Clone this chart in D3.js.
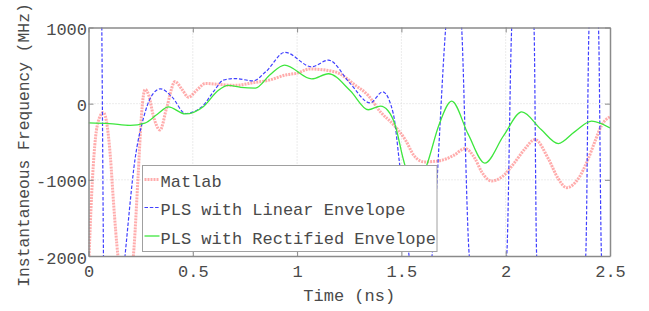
<!DOCTYPE html>
<html>
<head>
<meta charset="utf-8">
<script src="https://cdn.jsdelivr.net/npm/d3@7"></script>
<style>
  html, body { margin: 0; padding: 0; background: #fff; }
  svg { display: block; }
  text { font-family: "Liberation Mono", "DejaVu Sans Mono", monospace; fill: #4a4a4a; }
</style>
</head>
<body>
<svg id="chart" width="649" height="311"></svg>
<script>
// ---- data ----
const seriesNames = ["Matlab", "PLS with Linear Envelope", "PLS with Rectified Envelope"];
const xTicks = [0, 0.5, 1, 1.5, 2, 2.5];
const xTickLabels = ["0", "0.5", "1", "1.5", "2", "2.5"];
const yTicks = [-2000, -1000, 0, 1000];
const yTickLabels = ["-2000", "-1000", "0", "1000"];
const xLabel = "Time (ns)";
const yLabel = "Instantaneous Frequency (MHz)";

// Matlab (red dotted)
const matlabT = [0, 0.015, 0.03, 0.045, 0.071, 0.09, 0.105, 0.12, 0.141, 0.175, 0.215, 0.238, 0.254, 0.271, 0.29, 0.31, 0.343, 0.375, 0.415, 0.45, 0.479, 0.52, 0.56, 0.62, 0.7, 0.8, 0.86, 0.95, 1.0, 1.06, 1.18, 1.28, 1.34, 1.40, 1.46, 1.52, 1.56, 1.61, 1.69, 1.75, 1.805, 1.853, 1.885, 1.933, 1.981, 2.045, 2.093, 2.14, 2.204, 2.252, 2.292, 2.348, 2.396, 2.43, 2.46, 2.5];
const matlabF = [-2200, -1200, -550, -250, -116, -300, -700, -1300, -2000, -2600, -2000, -940, -150, 186, 100, -150, -345, -50, 290, 180, 85, 180, 265, 255, 240, 280, 305, 380, 400, 455, 419, 240, 110, -110, -270, -480, -680, -765, -745, -680, -590, -721, -897, -1015, -963, -765, -590, -471, -721, -985, -1103, -985, -721, -480, -283, -173];

// PLS with Linear Envelope (blue dashed)
const linearT = [0, 0.059, 0.077, 0.13, 0.175, 0.223, 0.263, 0.30, 0.345, 0.40, 0.465, 0.543, 0.60, 0.646, 0.70, 0.79, 0.85, 0.942, 1.07, 1.15, 1.254, 1.35, 1.41, 1.461, 1.49, 1.537, 1.59, 1.6467, 1.7124, 1.75, 1.789, 1.8255, 1.92, 2.0048, 2.0288, 2.08, 2.1357, 2.1486, 2.27, 2.3835, 2.3993, 2.42, 2.4449, 2.4592, 2.5];
const linearF = [3500, 2000, -3000, -3300, -2000, -730, -195, 90, 195, 90, -129, -42, 160, 309, 330, 300, 420, 674, 484, 572, 266, 10, 155, -129, -760, -2000, -2800, -2000, 1000, 2200, 1000, -2000, -3500, -2000, 1000, 2500, 1000, -2000, -4000, -2000, 1000, 1800, 1000, -2000, -3000];

// PLS with Rectified Envelope (green solid)
const rectT = [0, 0.1, 0.2, 0.27, 0.33, 0.383, 0.463, 0.55, 0.62, 0.67, 0.73, 0.80, 0.87, 0.94, 1.07, 1.15, 1.255, 1.341, 1.40, 1.435, 1.47, 1.51, 1.57, 1.625, 1.68, 1.741, 1.82, 1.90, 1.99, 2.077, 2.17, 2.252, 2.33, 2.412, 2.5];
const rectF = [-253, -262, -285, -255, -140, -42, -135, -40, 170, 240, 215, 205, 380, 507, 325, 393, 170, -80, -33, -90, -280, -740, -1150, -780, -280, 33, -400, -780, -420, -107, -340, -524, -370, -230, -318];

// ---- layout ----
const mLeft = 88.5, mRight = 610, mTop = 27.5, mBottom = 256;
const svg = d3.select("#chart");

const x = d3.scaleLinear().domain([0, 2.5]).range([mLeft, mRight]);
const y = d3.scaleLinear().domain([-2000, 1000]).range([mBottom, mTop]);

// grid
const grid = svg.append("g");
grid.selectAll("line.gx").data(xTicks.slice(1, -1)).enter().append("line")
  .attr("x1", d => x(d)).attr("x2", d => x(d)).attr("y1", mTop).attr("y2", mBottom)
  .attr("stroke", "#d8d8d8").attr("stroke-width", 1).attr("stroke-dasharray", "1,2");
grid.selectAll("line.gy").data(yTicks.slice(1, -1)).enter().append("line")
  .attr("x1", mLeft).attr("x2", mRight).attr("y1", d => y(d)).attr("y2", d => y(d))
  .attr("stroke", "#d8d8d8").attr("stroke-width", 1).attr("stroke-dasharray", "1,2");

// clip
svg.append("defs").append("clipPath").attr("id", "plotclip")
  .append("rect").attr("x", mLeft).attr("y", mTop).attr("width", mRight - mLeft).attr("height", mBottom - mTop);

const line = d3.line().x(d => x(d[0])).y(d => y(d[1])).curve(d3.curveMonotoneX);
const plot = svg.append("g").attr("clip-path", "url(#plotclip)");

const styles = [
  { stroke: "rgba(255,70,70,0.45)", width: 3, dash: "2,1" },
  { stroke: "#4040ff", width: 1.2, dash: "3.5,1.8" },
  { stroke: "#3ee63e", width: 1.3, dash: null }
];
const seriesData = [
  d3.zip(matlabT, matlabF),
  d3.zip(linearT, linearF),
  d3.zip(rectT, rectF)
];
seriesData.forEach((data, i) => {
  const p = plot.append("path").attr("d", line(data)).attr("fill", "none")
    .attr("stroke", styles[i].stroke).attr("stroke-width", styles[i].width)
    .attr("stroke-linejoin", "round");
  if (styles[i].dash) p.attr("stroke-dasharray", styles[i].dash);
});

// axes
const axisColor = "#8a8a8a";
const fontSize = 17;
const gx = svg.append("g").attr("transform", `translate(0,${mBottom})`)
  .call(d3.axisBottom(x).tickValues(xTicks).tickFormat((d, i) => xTickLabels[i]).tickSizeInner(-5).tickSizeOuter(0).tickPadding(9));
const gxt = svg.append("g").attr("transform", `translate(0,${mTop})`)
  .call(d3.axisTop(x).tickValues(xTicks).tickFormat("").tickSizeInner(-5).tickSizeOuter(0));
const gy = svg.append("g").attr("transform", `translate(${mLeft},0)`)
  .call(d3.axisLeft(y).tickValues(yTicks).tickFormat((d, i) => yTickLabels[i]).tickSizeInner(-5).tickSizeOuter(0).tickPadding(1.5));
const gyr = svg.append("g").attr("transform", `translate(${mRight},0)`)
  .call(d3.axisRight(y).tickValues(yTicks).tickFormat("").tickSizeInner(-5).tickSizeOuter(0));

[gx, gxt, gy, gyr].forEach(g => {
  g.select(".domain").attr("stroke", axisColor).attr("stroke-width", 1.5);
  g.selectAll(".tick line").attr("stroke", axisColor).attr("stroke-width", 1);
  g.selectAll("text").attr("font-family", "Liberation Mono").attr("font-size", fontSize).attr("fill", "#4a4a4a");
});
gy.selectAll("text").attr("dy", "0.42em");

// axis labels
svg.append("text").attr("x", (mLeft + mRight) / 2).attr("y", 301)
  .attr("text-anchor", "middle").attr("font-size", fontSize).text(xLabel);
svg.append("text").attr("transform", "translate(28.5,145) rotate(-90)")
  .attr("text-anchor", "middle").attr("font-size", 16.3).text(yLabel);

// legend
const lg = svg.append("g");
lg.append("rect").attr("x", 142.5).attr("y", 165.5).attr("width", 294.5).attr("height", 86)
  .attr("fill", "#fff").attr("stroke", "#a0a0a0").attr("stroke-width", 1);
const rowBase = [187, 215, 243.5];
seriesNames.forEach((name, i) => {
  const yy = rowBase[i] - 7.5;
  const l = lg.append("line").attr("x1", 144.5).attr("x2", 159.5).attr("y1", yy).attr("y2", yy)
    .attr("stroke", styles[i].stroke).attr("stroke-width", styles[i].width);
  if (styles[i].dash) l.attr("stroke-dasharray", styles[i].dash);
  lg.append("text").attr("x", 160.5).attr("y", rowBase[i]).attr("font-size", fontSize).text(name);
});
</script>
</body>
</html>
